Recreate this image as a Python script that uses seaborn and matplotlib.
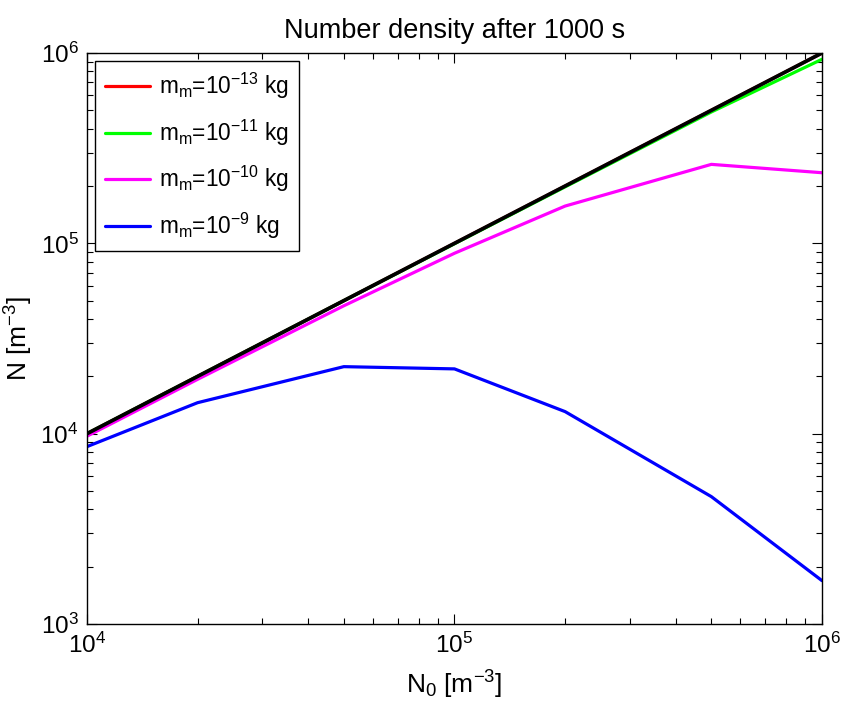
import matplotlib
matplotlib.use("Agg")
import matplotlib.pyplot as plt
from matplotlib.ticker import LogLocator, NullFormatter
import numpy as np
import pandas as pd
import seaborn as sns

# Initial number density N0 [m^-3]
n0 = [1e4, 2e4, 5e4, 1e5, 2e5, 5e5, 1e6]

# Number density after 1000 s for each monomer mass
n_1e13 = [1e4, 2e4, 5e4, 1e5, 2e5, 5e5, 1e6]
n_1e11 = [1e4, 2e4, 5e4, 9.95e4, 1.98e5, 4.9e5, 9.27e5]
n_1e10 = [9.7e3, 1.93e4, 4.7e4, 8.87e4, 1.57e5, 2.6e5, 2.35e5]
n_1e9 = [8.55e3, 1.455e4, 2.25e4, 2.19e4, 1.306e4, 4.67e3, 1.69e3]

labels = [r"m$_m$=10$^{-13}$ kg", r"m$_m$=10$^{-11}$ kg",
          r"m$_m$=10$^{-10}$ kg", r"m$_m$=10$^{-9}$ kg"]
colors = ["#ff0000", "#00ff00", "#ff00ff", "#0000ff"]
series = [n_1e13, n_1e11, n_1e10, n_1e9]

sns.set_style("white")
plt.rcParams["font.family"] = ["Liberation Sans", "DejaVu Sans"]
plt.rcParams["mathtext.fontset"] = "custom"
plt.rcParams["mathtext.rm"] = "Liberation Sans"
plt.rcParams["mathtext.it"] = "Liberation Sans"
plt.rcParams["mathtext.default"] = "regular"
plt.rcParams["text.color"] = "black"
plt.rcParams["axes.labelcolor"] = "black"
plt.rcParams["xtick.color"] = "black"
plt.rcParams["ytick.color"] = "black"

fig = plt.figure(figsize=(8.41, 7.04), dpi=100)
ax = fig.add_axes([0.1034, 0.1136, 0.874, 0.8111])

for vals, lab, col in zip(series, labels, colors):
    df = pd.DataFrame({"N0": n0, "N": vals})
    sns.lineplot(data=df, x="N0", y="N", ax=ax, color=col, lw=2.3, label=lab)

# Reference line N = N0
ref = pd.DataFrame({"N0": n0, "N": n0})
sns.lineplot(data=ref, x="N0", y="N", ax=ax, color="black", lw=2.7)

ax.set_xscale("log")
ax.set_yscale("log")
ax.set_xlim(1e4, 1e6)
ax.set_ylim(1e3, 1e6)

ax.xaxis.set_minor_locator(LogLocator(base=10, subs=np.arange(2, 10)))
ax.yaxis.set_minor_locator(LogLocator(base=10, subs=np.arange(2, 10)))
ax.xaxis.set_minor_formatter(NullFormatter())
ax.yaxis.set_minor_formatter(NullFormatter())
ax.set_xticks([1e4, 1e5, 1e6])
ax.set_xticklabels([r"10$^{4}$", r"10$^{5}$", r"10$^{6}$"])
ax.set_yticks([1e3, 1e4, 1e5, 1e6])
ax.set_yticklabels([r"10$^{3}$", r"10$^{4}$", r"10$^{5}$", r"10$^{6}$"])

ax.tick_params(which="both", direction="in", top=True, right=True,
               bottom=True, left=True, color="black")
ax.tick_params(which="major", length=7, width=0.8, labelsize=17.5, pad=6)
ax.tick_params(which="minor", length=4, width=0.8)

for sp in ax.spines.values():
    sp.set_color("black")
    sp.set_linewidth(1.0)

ax.set_xlabel(r"N$_0$ [m$^{-3}$]", fontsize=19, labelpad=8)
ax.set_ylabel(r"N [m$^{-3}$]", fontsize=19, labelpad=4)
ax.set_title("Number density after 1000 s", fontsize=19.5, pad=11)

leg = ax.legend(loc="upper left", fontsize=16.3, frameon=True, fancybox=False,
                edgecolor="black", framealpha=1, handlelength=2.0,
                borderaxespad=0.35, labelspacing=0.72, handletextpad=0.4,
                borderpad=0.45)
leg.get_frame().set_linewidth(1.0)

fig.savefig("out.png", dpi=100)
